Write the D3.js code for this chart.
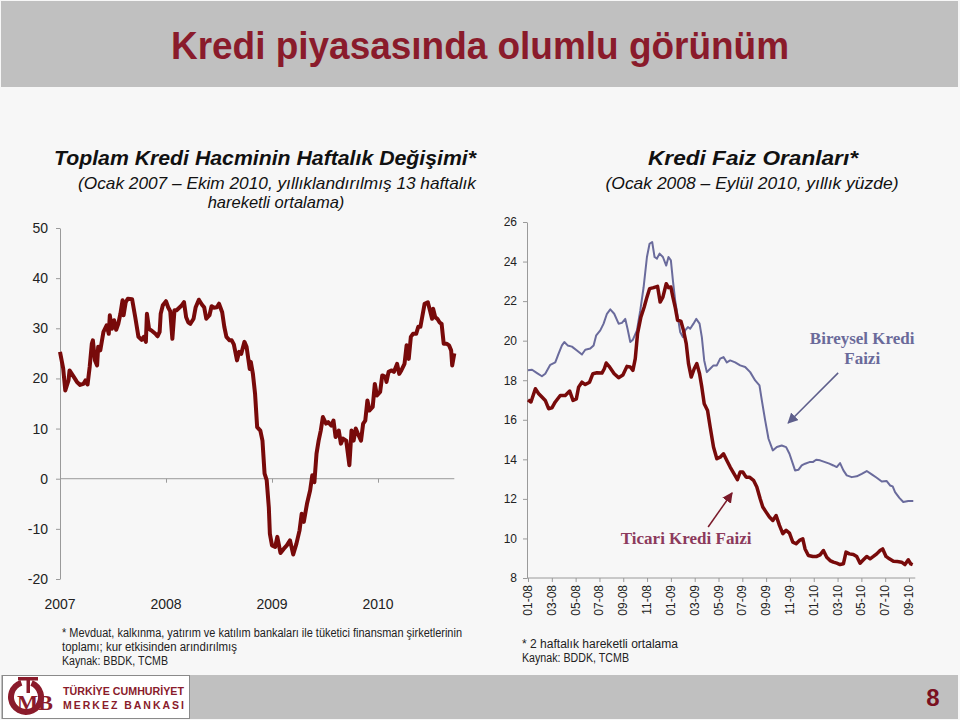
<!DOCTYPE html>
<html>
<head>
<meta charset="utf-8">
<script src="https://cdn.jsdelivr.net/npm/d3@7"></script>
<style>
  body { margin: 0; background: #f7f7f7; }
  svg { display: block; }
  .sans { font-family: "Liberation Sans", Arial, sans-serif; }
  .serif { font-family: "Liberation Serif", "Times New Roman", serif; }
</style>
</head>
<body>
<div id="chart"></div>
<script>
// ---- left chart: weekly change of total credit volume (t = years since Jan 2007)
var creditT = [0.00,0.03,0.05,0.08,0.09,0.13,0.16,0.19,0.22,0.24,0.26,0.28,0.30,0.31,0.33,0.35,0.36,0.38,0.41,0.44,
  0.46,0.47,0.49,0.51,0.53,0.55,0.57,0.59,0.60,0.62,0.64,0.68,0.71,0.74,0.77,0.79,0.81,0.82,0.84,0.86,
  0.90,0.92,0.94,0.95,0.97,1.00,1.02,1.04,1.06,1.08,1.10,1.13,1.15,1.17,1.19,1.21,1.23,1.26,1.28,1.31,
  1.34,1.36,1.38,1.41,1.43,1.45,1.48,1.50,1.53,1.55,1.57,1.60,1.62,1.64,1.67,1.69,1.71,1.74,1.76,1.79,
  1.80,1.82,1.84,1.86,1.89,1.91,1.93,1.95,1.97,1.98,2.00,2.03,2.05,2.08,2.11,2.14,2.17,2.20,2.23,2.26,
  2.28,2.30,2.33,2.36,2.38,2.40,2.42,2.44,2.46,2.48,2.51,2.53,2.56,2.58,2.60,2.63,2.65,2.67,2.70,2.73,
  2.75,2.77,2.79,2.81,2.84,2.86,2.88,2.90,2.92,2.95,2.97,2.99,3.02,3.04,3.07,3.08,3.10,3.13,3.15,3.18,
  3.20,3.22,3.25,3.27,3.29,3.31,3.33,3.36,3.38,3.40,3.42,3.44,3.47,3.49,3.51,3.52,3.54,3.56,3.58,3.60,
  3.62,3.65,3.67,3.69,3.70,3.72];
var creditVal = [25.3,22.0,17.6,19.6,21.6,20.3,19.3,18.7,18.9,19.6,18.8,22.3,26.9,27.6,23.6,22.6,26.3,25.6,29.3,30.6,
  28.9,32.6,29.9,31.6,29.7,30.9,32.9,35.6,32.6,35.2,35.9,35.8,32.2,28.3,27.7,28.3,27.3,32.9,29.9,29.6,
  28.9,28.4,29.3,32.9,34.6,35.4,34.2,33.4,27.9,33.6,33.6,34.2,34.6,35.2,32.2,31.2,30.9,31.9,34.2,35.7,
  34.7,34.2,31.9,32.6,34.4,34.1,34.2,34.9,33.2,30.3,28.3,27.6,27.6,26.8,23.6,25.3,24.9,27.3,26.3,21.9,
  23.3,20.9,17.0,10.3,9.6,7.6,1.0,-0.3,-5.7,-11.0,-13.3,-13.6,-11.6,-14.8,-14.0,-13.3,-12.3,-15.1,-13.0,-10.3,
  -7.0,-8.6,-5.0,-2.3,0.7,-0.7,5.0,7.6,9.6,12.3,11.0,11.3,10.6,11.6,8.3,9.6,7.0,8.0,7.6,2.7,
  9.6,7.6,10.0,9.0,7.6,11.0,11.6,15.6,13.6,14.3,18.9,16.6,17.3,20.6,20.3,19.3,21.3,21.6,21.3,22.9,
  20.9,21.6,22.9,26.6,23.9,28.3,28.9,28.9,30.3,30.3,32.6,34.9,35.2,33.6,31.9,33.9,32.2,31.9,31.2,30.9,
  26.9,26.9,26.6,25.6,22.6,25.0];
var leftYTicks = [-20,-10,0,10,20,30,40,50];
var yearTicks = [0,1,2,3];
var yearLabels = ["2007","2008","2009","2010"];

// ---- right chart: loan rates (m = months since Jan 2008)
var consumerM = [0,0.34,0.76,1.17,1.45,1.87,2.29,2.57,2.85,3.05,3.33,3.69,4.11,4.53,4.81,5.23,5.51,5.73,6.07,6.35,
  6.63,6.91,7.24,7.61,7.89,8.17,8.36,8.59,8.81,9.15,9.43,9.71,9.99,10.21,10.43,10.63,10.83,11.05,11.33,11.61,
  11.80,12.00,12.17,12.36,12.56,12.78,13.01,13.20,13.43,13.62,13.90,14.13,14.41,14.60,14.80,15.02,15.30,15.58,15.86,16.14,
  16.42,16.70,16.98,17.40,17.82,18.24,18.66,19.08,19.44,19.64,19.92,20.20,20.56,20.90,21.31,21.68,21.96,22.24,22.43,22.71,
  22.99,23.27,23.64,23.92,24.20,24.53,24.95,25.31,25.65,25.93,26.21,26.49,26.77,27.19,27.61,28.03,28.45,28.87,29.29,29.71,
  30.13,30.41,30.63,30.83,31.19,31.52,31.94,32.36];
var consumerRate = [18.5,18.53,18.36,18.2,18.33,18.78,18.9,19.34,19.76,19.93,19.76,19.7,19.5,19.3,19.54,19.6,19.76,20.27,20.52,20.86,
  21.36,21.58,21.36,20.86,20.9,21.1,20.6,19.93,20.05,20.52,21.53,22.7,24.23,24.9,24.99,24.23,24.15,24.4,24.23,23.8,
  24.23,24.06,23.05,22.04,21.28,20.44,20.18,20.52,20.69,20.6,20.86,21.1,20.86,20.18,19.0,18.41,18.58,18.75,18.75,19.09,
  19.17,18.9,19.0,18.9,18.75,18.67,18.41,17.99,17.74,16.98,15.97,15.04,14.45,14.62,14.7,14.62,14.28,13.78,13.44,13.47,
  13.69,13.78,13.86,13.86,13.98,13.95,13.86,13.78,13.69,13.61,13.81,13.44,13.19,13.1,13.14,13.27,13.41,13.24,13.07,12.88,
  12.9,12.68,12.63,12.34,12.05,11.84,11.89,11.89];
var commercialM = [0,0.25,0.62,0.90,1.17,1.45,1.73,2.01,2.29,2.71,3.13,3.50,3.78,4.06,4.25,4.53,4.81,5.17,5.45,5.79,
  6.21,6.41,6.57,6.85,7.24,7.61,7.97,8.31,8.59,8.81,9.01,9.20,9.48,9.76,9.99,10.21,10.55,10.88,11.10,11.33,
  11.61,11.80,12.00,12.17,12.36,12.56,12.84,13.06,13.29,13.48,13.71,13.96,14.18,14.41,14.60,14.80,15.08,15.30,15.58,15.86,
  16.14,16.42,16.70,16.98,17.31,17.59,17.82,18.04,18.32,18.60,18.94,19.22,19.50,19.72,20.00,20.28,20.56,20.84,21.12,21.40,
  21.68,21.96,22.24,22.52,22.80,23.08,23.27,23.55,23.92,24.25,24.53,24.81,25.09,25.37,25.65,25.93,26.21,26.49,26.71,26.99,
  27.33,27.61,27.89,28.17,28.45,28.73,29.01,29.29,29.57,29.79,30.07,30.35,30.69,31.02,31.38,31.66,31.94,32.14,32.31];
var commercialRate = [17.01,16.9,17.57,17.32,17.15,16.98,16.56,16.6,16.9,17.23,17.23,17.45,16.98,17.06,17.65,17.9,17.78,17.9,18.33,18.38,
  18.36,18.58,18.87,18.67,18.33,18.13,18.26,18.7,18.67,18.5,19.09,20.35,21.19,21.7,22.2,22.63,22.68,22.75,21.95,22.2,
  22.88,22.68,22.71,22.2,21.7,21.03,20.99,20.52,19.85,18.84,18.16,18.58,18.84,18.33,17.65,16.81,16.47,15.63,14.62,14.03,
  14.11,14.28,13.94,13.61,13.27,12.97,13.36,13.36,13.1,13.1,12.94,12.6,12.01,11.59,11.33,11.08,10.91,11.16,10.66,10.24,
  10.41,10.27,9.81,9.73,9.9,9.98,9.47,9.14,9.09,9.09,9.17,9.39,9.05,8.88,8.8,8.75,8.68,8.72,9.31,9.22,
  9.19,9.09,8.75,8.92,9.09,8.97,9.09,9.22,9.39,9.47,9.09,8.97,8.85,8.83,8.8,8.68,8.92,8.72,8.68];
var rightYTicks = [8,10,12,14,16,18,20,22,24,26];
var monthTicks = [0,2,4,6,8,10,12,14,16,18,20,22,24,26,28,30,32];
var monthLabels = ["01-08","03-08","05-08","07-08","09-08","11-08","01-09","03-09","05-09","07-09",
  "09-09","11-09","01-10","03-10","05-10","07-10","09-10"];

var W = 960, H = 720;
var maroon = "#780a0a", slate = "#6a6b9c", axisGray = "#9a9a9a", logoRed = "#8a1b2b";

var svg = d3.select("#chart").append("svg").attr("width", W).attr("height", H);
svg.append("rect").attr("width", W).attr("height", H).attr("fill", "#f7f7f7");

// header band
svg.append("rect").attr("x", 1).attr("y", 1).attr("width", W - 3).attr("height", 86).attr("fill", "#c0c0c0");
svg.append("text").attr("class", "sans").attr("x", 480).attr("y", 59)
  .attr("text-anchor", "middle").attr("font-size", 38).attr("font-weight", "bold")
  .attr("fill", logoRed).attr("textLength", 618).attr("lengthAdjust", "spacingAndGlyphs")
  .text("Kredi piyasasında olumlu görünüm");

// titles
function title(x, y, size, weight, txt, len) {
  var t = svg.append("text").attr("class", "sans").attr("x", x).attr("y", y)
    .attr("text-anchor", "middle").attr("font-size", size).attr("font-style", "italic")
    .attr("font-weight", weight).attr("fill", "#111").text(txt);
  if (len) t.attr("textLength", len).attr("lengthAdjust", "spacingAndGlyphs");
}
title(265, 165, 21, "bold", "Toplam Kredi Hacminin Haftalık Değişimi*", 422);
title(277, 189, 16.5, "normal", "(Ocak 2007 – Ekim 2010, yıllıklandırılmış 13 haftalık", 398);
title(276, 208, 16.5, "normal", "hareketli ortalama)");
title(753, 165, 21, "bold", "Kredi Faiz Oranları*", 210);
title(752, 189, 16.5, "normal", "(Ocak 2008  – Eylül 2010, yıllık yüzde)", 293);

var plain = function (d) { return String(d); };

// ---- left chart
var xL = d3.scaleLinear().domain([0, 3]).range([60, 378]);
var yL = d3.scaleLinear().domain([-20, 50]).range([579, 228]);

var gyL = svg.append("g").attr("transform", "translate(60,0)")
  .call(d3.axisLeft(yL).tickValues(leftYTicks).tickFormat(plain).tickSize(4).tickSizeOuter(0).tickPadding(8));
gyL.selectAll("text").attr("class", "sans").attr("font-size", 14).attr("fill", "#222");

var gxL = svg.append("g").attr("transform", "translate(0," + yL(0) + ")")
  .call(d3.axisBottom(xL).tickValues(yearTicks).tickSize(4).tickSizeOuter(0).tickFormat(""));
gxL.select(".domain").attr("d", "M" + xL(0) + ",0H" + xL(d3.max(creditT)));

[gyL, gxL].forEach(function (g) {
  g.select(".domain").attr("stroke", axisGray);
  g.selectAll(".tick line").attr("stroke", axisGray);
});

svg.append("g").selectAll("text").data(yearTicks).join("text")
  .attr("class", "sans").attr("x", function (d) { return xL(d); }).attr("y", 609)
  .attr("text-anchor", "middle").attr("font-size", 14).attr("fill", "#222")
  .text(function (d, i) { return yearLabels[i]; });

svg.append("path").datum(d3.range(creditT.length))
  .attr("fill", "none").attr("stroke", maroon).attr("stroke-width", 4).attr("stroke-linejoin", "round")
  .attr("d", d3.line().x(function (i) { return xL(creditT[i]); }).y(function (i) { return yL(creditVal[i]); }));

// ---- right chart
var xR = d3.scaleLinear().domain([0, 32]).range([528, 909]);
var yR = d3.scaleLinear().domain([8, 26]).range([578, 222]);

var gyR = svg.append("g").attr("transform", "translate(527,0)")
  .call(d3.axisLeft(yR).tickValues(rightYTicks).tickFormat(plain).tickSize(4).tickSizeOuter(0).tickPadding(6));
gyR.selectAll("text").attr("class", "sans").attr("font-size", 12).attr("fill", "#222");

var gxR = svg.append("g").attr("transform", "translate(0," + yR(8) + ")")
  .call(d3.axisBottom(xR).tickValues(monthTicks).tickSize(4).tickSizeOuter(0).tickFormat(""));
gxR.select(".domain").attr("d", "M527,0H" + (xR(d3.max(consumerM)) + 2));

[gyR, gxR].forEach(function (g) {
  g.select(".domain").attr("stroke", axisGray);
  g.selectAll(".tick line").attr("stroke", axisGray);
});

svg.append("g").selectAll("text").data(monthTicks).join("text")
  .attr("class", "sans").attr("font-size", 12).attr("fill", "#222")
  .attr("text-anchor", "end")
  .attr("transform", function (d) { return "translate(" + (xR(d) + 4) + ",585) rotate(-90)"; })
  .text(function (d, i) { return monthLabels[i]; });

svg.append("path").datum(d3.range(consumerM.length))
  .attr("fill", "none").attr("stroke", slate).attr("stroke-width", 2).attr("stroke-linejoin", "round")
  .attr("d", d3.line().x(function (i) { return xR(consumerM[i]); }).y(function (i) { return yR(consumerRate[i]); }));

svg.append("path").datum(d3.range(commercialM.length))
  .attr("fill", "none").attr("stroke", maroon).attr("stroke-width", 3.5).attr("stroke-linejoin", "round")
  .attr("d", d3.line().x(function (i) { return xR(commercialM[i]); }).y(function (i) { return yR(commercialRate[i]); }));

// annotations
var defs = svg.append("defs");
function marker(id, color) {
  defs.append("marker").attr("id", id).attr("viewBox", "0 0 10 10").attr("refX", 9).attr("refY", 5)
    .attr("markerWidth", 7).attr("markerHeight", 7).attr("orient", "auto")
    .append("path").attr("d", "M0,0L10,5L0,10z").attr("fill", color);
}
marker("arrS", "#5e5f8c");
marker("arrM", "#7a1a2a");

svg.append("line").attr("x1", xR(26.05)).attr("y1", yR(18.37)).attr("x2", xR(21.85)).attr("y2", yR(15.84))
  .attr("stroke", "#5e5f8c").attr("stroke-width", 1.5).attr("marker-end", "url(#arrS)");
svg.append("line").attr("x1", xR(15.13)).attr("y1", yR(10.58)).attr("x2", xR(17.14)).attr("y2", yR(12.3))
  .attr("stroke", "#7a1a2a").attr("stroke-width", 1.5).attr("marker-end", "url(#arrM)");

svg.append("text").attr("class", "serif").attr("x", xR(28.07)).attr("y", yR(19.82))
  .attr("text-anchor", "middle").attr("font-size", 17).attr("font-weight", "bold").attr("fill", "#6a6a9a")
  .text("Bireysel Kredi");
svg.append("text").attr("class", "serif").attr("x", xR(28.07)).attr("y", yR(18.8))
  .attr("text-anchor", "middle").attr("font-size", 17).attr("font-weight", "bold").attr("fill", "#6a6a9a")
  .text("Faizi");
svg.append("text").attr("class", "serif").attr("x", xR(13.28)).attr("y", yR(9.7))
  .attr("text-anchor", "middle").attr("font-size", 17).attr("font-weight", "bold").attr("fill", "#8c3a5c")
  .text("Ticari Kredi Faizi");

// footnotes
function note(x, y, txt, len) {
  svg.append("text").attr("class", "sans").attr("x", x).attr("y", y)
    .attr("font-size", 12.5).attr("fill", "#222")
    .attr("textLength", len).attr("lengthAdjust", "spacingAndGlyphs").text(txt);
}
note(62, 637, "* Mevduat, kalkınma, yatırım ve katılım bankaları ile tüketici finansman şirketlerinin", 400);
note(62, 651, "toplamı; kur etkisinden arındırılmış", 175);
note(62, 665, "Kaynak: BBDK, TCMB", 106);
note(522, 648, "* 2 haftalık hareketli ortalama", 156);
note(522, 662, "Kaynak: BDDK, TCMB", 107);

// footer
svg.append("rect").attr("x", 1).attr("y", 675).attr("width", W - 3).attr("height", 44).attr("fill", "#c0c0c0");
svg.append("rect").attr("x", 2.5).attr("y", 675.5).attr("width", 187).attr("height", 43)
  .attr("fill", "#fff").attr("stroke", "#8a8a8a");
var logo = svg.append("g").attr("fill", logoRed);
logo.append("path")
  .attr("d", d3.arc()({ innerRadius: 12, outerRadius: 18, startAngle: Math.PI * 0.12, endAngle: Math.PI * 1.9 }))
  .attr("transform", "translate(26,697)");
logo.append("rect").attr("x", 18).attr("y", 677).attr("width", 20).attr("height", 3.5);
logo.append("rect").attr("x", 26.5).attr("y", 677).attr("width", 3.5).attr("height", 16);
logo.append("text").attr("class", "serif").attr("x", 35).attr("y", 710).attr("font-size", 22)
  .attr("font-weight", "bold").attr("text-anchor", "middle")
  .attr("textLength", 36).attr("lengthAdjust", "spacingAndGlyphs").text("MB");
logo.append("text").attr("class", "sans").attr("x", 63).attr("y", 695).attr("font-size", 10.5)
  .attr("font-weight", "bold").attr("textLength", 121).attr("lengthAdjust", "spacingAndGlyphs")
  .text("TÜRKİYE CUMHURİYET");
logo.append("text").attr("class", "sans").attr("x", 63).attr("y", 709).attr("font-size", 10.5)
  .attr("font-weight", "bold").attr("textLength", 121).attr("lengthAdjust", "spacing")
  .text("MERKEZ BANKASI");

svg.append("text").attr("class", "sans").attr("x", 933).attr("y", 706).attr("text-anchor", "middle")
  .attr("font-size", 24).attr("font-weight", "bold").attr("fill", "#7a1020").text("8");
</script>
</body>
</html>
